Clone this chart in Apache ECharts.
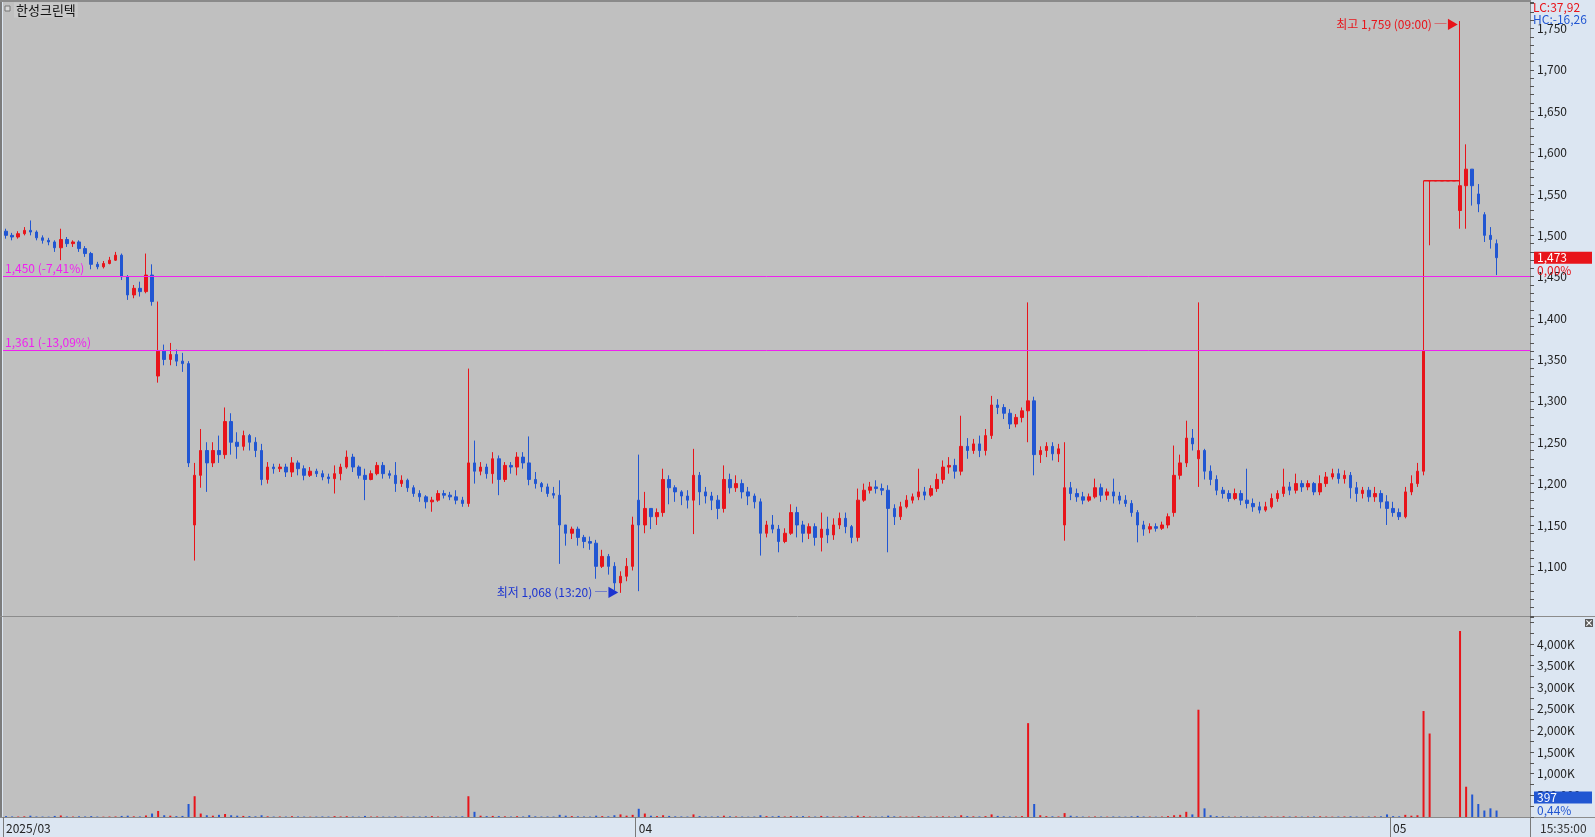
<!DOCTYPE html>
<html><head><meta charset="utf-8">
<script src="https://cdn.jsdelivr.net/npm/echarts@6/dist/echarts.min.js"></script>
<style>html,body{margin:0;padding:0;background:#dce6f2;overflow:hidden}#c{width:1595px;height:837px}</style>
</head><body><div id="c"></div>
<script>
const FONT = "'Noto Sans CJK KR','Noto Sans',sans-serif";
const stockName = '한성크린텍';
const lcText = 'LC:37,92';
const hcText = 'HC:-16,26';
const timeText = '15:35:00';
const totalSlots = 251;
const monthStartIdx = [0, 104, 228];
const monthLabels = ['2025/03', '04', '05'];
const priceLabelValues = [1100,1150,1200,1250,1300,1350,1400,1450,1500,1550,1600,1650,1700,1750];
const volLabelValues = [500,1000,1500,2000,2500,3000,3500,4000]; // thousands
// [open, close, low, high]
const candles = [
[1505,1500,1496,1508],[1500,1498,1494,1503],[1498,1502,1496,1505],[1502,1506,1500,1510],[1506,1504,1500,1518],
[1504,1497,1494,1506],[1497,1494,1490,1500],[1494,1492,1488,1497],[1492,1485,1480,1494],[1485,1495,1470,1508],
[1495,1490,1486,1498],[1490,1492,1486,1494],[1492,1484,1480,1494],[1484,1478,1474,1487],[1478,1465,1459,1480],
[1465,1462,1459,1468],[1462,1466,1460,1469],[1466,1470,1465,1474],[1470,1476,1469,1480],[1476,1450,1446,1478],
[1450,1428,1422,1452],[1428,1436,1424,1440],[1436,1432,1426,1444],[1432,1452,1430,1478],[1452,1420,1415,1465],
[1330,1360,1322,1420],[1360,1350,1343,1368],[1350,1356,1343,1370],[1356,1348,1342,1362],[1348,1345,1335,1358],
[1345,1225,1220,1348],[1150,1210,1107,1225],[1210,1240,1195,1266],[1240,1225,1190,1250],[1225,1240,1220,1250],
[1240,1235,1225,1258],[1235,1275,1230,1292],[1275,1250,1235,1285],[1250,1245,1230,1262],[1245,1258,1240,1264],
[1258,1250,1240,1260],[1250,1240,1232,1256],[1240,1205,1198,1248],[1205,1220,1200,1226],[1220,1218,1212,1224],
[1218,1220,1214,1224],[1220,1214,1208,1224],[1214,1225,1208,1232],[1225,1218,1210,1228],[1218,1210,1204,1222],
[1210,1215,1208,1220],[1215,1212,1208,1218],[1212,1208,1204,1216],[1208,1206,1200,1212],[1206,1212,1188,1222],
[1212,1220,1204,1224],[1220,1232,1218,1240],[1232,1220,1214,1236],[1220,1210,1206,1222],[1210,1205,1180,1218],
[1205,1212,1204,1216],[1212,1222,1210,1226],[1222,1212,1206,1226],[1212,1210,1206,1216],[1210,1200,1190,1226],
[1200,1204,1196,1210],[1204,1195,1190,1206],[1195,1188,1184,1198],[1188,1184,1178,1192],[1184,1178,1170,1186],
[1178,1180,1166,1184],[1180,1188,1178,1192],[1188,1186,1182,1192],[1186,1184,1180,1190],[1184,1180,1175,1192],
[1180,1176,1172,1184],[1176,1225,1172,1339],[1225,1215,1200,1252],[1215,1220,1210,1226],[1220,1212,1206,1224],
[1212,1230,1200,1238],[1230,1205,1186,1234],[1205,1222,1202,1226],[1222,1220,1212,1226],[1220,1232,1210,1238],
[1232,1225,1218,1238],[1225,1205,1198,1257],[1205,1200,1194,1214],[1200,1196,1190,1202],[1196,1188,1184,1200],
[1188,1186,1182,1196],[1186,1150,1103,1204],[1150,1140,1125,1150],[1140,1145,1133,1148],[1145,1135,1125,1148],
[1135,1130,1122,1138],[1130,1128,1120,1136],[1128,1100,1085,1132],[1100,1112,1098,1120],[1112,1100,1090,1115],
[1100,1080,1071,1105],[1080,1088,1068,1094],[1088,1100,1082,1110],[1100,1150,1095,1160],[1180,1150,1070,1235],
[1150,1170,1140,1190],[1170,1160,1145,1170],[1160,1165,1150,1170],[1165,1205,1160,1218],[1205,1195,1175,1210],
[1195,1190,1178,1198],[1190,1185,1174,1192],[1185,1180,1170,1192],[1180,1210,1139,1242],[1210,1190,1174,1214],
[1190,1185,1176,1196],[1185,1180,1168,1190],[1180,1170,1157,1186],[1170,1205,1165,1222],[1205,1195,1188,1212],
[1195,1200,1190,1210],[1200,1190,1182,1205],[1190,1185,1174,1196],[1185,1178,1170,1188],[1178,1140,1113,1182],
[1140,1150,1135,1155],[1150,1145,1140,1162],[1145,1130,1117,1150],[1130,1140,1128,1146],[1140,1165,1138,1175],
[1165,1150,1135,1172],[1150,1140,1129,1155],[1140,1148,1133,1152],[1148,1135,1125,1152],[1135,1145,1118,1165],
[1145,1138,1128,1160],[1138,1150,1132,1158],[1150,1158,1145,1165],[1158,1148,1140,1165],[1148,1135,1128,1150],
[1135,1180,1130,1194],[1180,1192,1178,1200],[1192,1196,1188,1202],[1196,1194,1188,1204],[1194,1192,1186,1200],
[1192,1170,1117,1198],[1170,1160,1150,1175],[1160,1172,1156,1178],[1172,1180,1170,1186],[1180,1184,1176,1188],
[1184,1190,1180,1218],[1190,1186,1180,1196],[1186,1194,1184,1198],[1194,1205,1190,1212],[1205,1220,1200,1228],
[1220,1222,1212,1232],[1222,1215,1206,1230],[1215,1245,1210,1282],[1245,1240,1230,1255],[1240,1248,1236,1254],
[1248,1240,1232,1258],[1240,1258,1234,1266],[1258,1295,1254,1306],[1295,1292,1284,1302],[1292,1285,1278,1296],
[1285,1272,1266,1290],[1272,1280,1268,1284],[1280,1288,1274,1292],[1288,1300,1250,1419],[1300,1235,1210,1305],
[1235,1240,1225,1245],[1240,1245,1232,1250],[1245,1236,1228,1250],[1236,1242,1226,1248],[1150,1195,1131,1250],
[1195,1188,1180,1202],[1188,1184,1178,1194],[1184,1180,1175,1190],[1180,1184,1178,1188],[1184,1195,1182,1206],
[1195,1186,1178,1200],[1186,1190,1180,1194],[1190,1185,1176,1206],[1185,1180,1175,1190],[1180,1176,1172,1186],
[1176,1165,1160,1180],[1165,1150,1129,1168],[1150,1145,1137,1155],[1145,1148,1140,1152],[1148,1146,1142,1152],
[1146,1150,1144,1154],[1150,1160,1146,1164],[1165,1210,1160,1246],[1210,1225,1205,1235],[1225,1255,1220,1276],
[1255,1248,1240,1266],[1230,1240,1196,1419],[1240,1215,1205,1242],[1215,1205,1198,1222],[1205,1192,1186,1210],
[1192,1188,1182,1196],[1188,1182,1178,1192],[1182,1188,1180,1194],[1188,1180,1174,1192],[1180,1176,1170,1218],
[1176,1172,1166,1182],[1172,1168,1164,1178],[1168,1172,1166,1178],[1172,1182,1170,1188],[1182,1188,1178,1192],
[1188,1196,1184,1218],[1196,1192,1186,1202],[1192,1200,1188,1212],[1200,1196,1190,1204],[1196,1200,1192,1204],
[1200,1190,1186,1202],[1190,1200,1186,1210],[1200,1208,1196,1214],[1208,1212,1205,1218],[1212,1206,1200,1218],
[1206,1210,1200,1216],[1210,1195,1182,1214],[1195,1188,1178,1202],[1188,1192,1182,1196],[1192,1184,1178,1196],
[1184,1188,1178,1196],[1188,1178,1170,1192],[1178,1170,1150,1186],[1170,1165,1160,1178],[1165,1160,1156,1170],
[1160,1190,1158,1196],[1190,1200,1186,1210],[1200,1215,1196,1225],[1215,1360,1210,1566],[1566,1566,1488,1566],
[1566,1566,1566,1566],[1566,1566,1566,1566],[1566,1566,1566,1566],[1566,1566,1566,1566],[1530,1560,1508,1759],
[1560,1580,1508,1610],[1580,1560,1536,1580],[1550,1538,1528,1562],[1525,1500,1492,1528],[1500,1495,1484,1510],
[1490,1473,1452,1495]
];
// volume in thousands of shares
const volumes = [
20,12,10,15,30,12,10,8,25,35, 12,10,15,12,20,10,8,10,12,25, 30,15,12,35,80,140,40,30,20,25,
300,480,80,40,30,50,70,40,30,25, 20,15,40,15,10,12,10,18,12,10, 8,10,12,10,20,12,18,10,8,25,
10,12,10,8,15,10,8,12,10,15, 20,10,8,10,12,15,480,120,30,20, 25,20,15,10,18,12,40,15,10,12,
10,50,30,20,15,12,10,30,20,15, 40,60,30,50,190,80,30,20,40,25, 15,12,10,60,20,12,10,15,30,15,
12,10,8,10,40,20,15,25,12,20, 15,20,12,10,25,15,12,10,15,12, 30,20,10,8,10,30,15,12,10,8,
20,10,8,12,15,10,12,40,20,15, 12,20,60,25,15,12,10,20,2170,300, 40,20,15,12,90,30,15,10,8,12,
10,8,12,10,8,15,25,12,10,8, 10,20,40,50,120,60,2480,200,40,20, 15,10,8,12,10,8,10,12,10,8,
15,10,12,8,10,12,15,10,8,10, 12,15,10,8,10,12,15,60,20,15, 50,30,40,2450,1930,null,null,null,null,4300,
700,520,300,150,200,150
];
const haltPrice = 1566, haltFrom = 233, haltTo = 239;
const refLines = [{ value: 1450, text: '1,450 (-7,41%)' }, { value: 1361, text: '1,361 (-13,09%)' }];
const highMark = { idx: 239, value: 1759, text: '최고 1,759 (09:00) ─▶' };
const lowMark = { idx: 101, value: 1068, text: '최저 1,068 (13:20) ─▶' };
const lastPrice = 1473, lastPriceText = '1,473', lastPct = '0,00%';
const lastVol = 0.397, lastVolText = '397', lastVolPct = '0,44%';

const RED = '#e8141a', BLUE = '#2156d2', MAG = '#f020f0';
const cats = Array.from({ length: totalSlots }, (_, i) => String(i));
const haltData = cats.map((_, i) => (i >= haltFrom && i <= haltTo ? haltPrice : null));
const volData = volumes.map((v, i) => ({
  value: v,
  itemStyle: { color: candles[i][1] >= candles[i][0] ? RED : BLUE }
}));
const CLEAR = 'rgba(0,0,0,0)';

const chart = echarts.init(document.getElementById('c'), null, { renderer: 'canvas' });
const axisTxt = { color: '#222', fontFamily: FONT, fontSize: 12 };
chart.setOption({
  animation: false,
  backgroundColor: '#dce6f2',
  textStyle: { fontFamily: FONT },
  grid: [
    { left: 3, right: 65, top: 2, height: 614, show: true, backgroundColor: '#c0c0c0', borderWidth: 0 },
    { left: 3, right: 65, top: 617, height: 200, show: true, backgroundColor: '#c0c0c0', borderWidth: 0 }
  ],
  xAxis: [
    { type: 'category', gridIndex: 0, data: cats, boundaryGap: true, show: false },
    {
      type: 'category', gridIndex: 1, data: cats, boundaryGap: true,
      axisLine: { show: true, lineStyle: { color: '#8a8a8a' } },
      axisTick: { show: true, length: 20, interval: (i) => monthStartIdx.includes(i), lineStyle: { color: '#7a7a7a' } },
      axisLabel: {
        interval: (i) => monthStartIdx.includes(i), align: 'left', margin: 5, ...axisTxt,
        formatter: (v, i) => { const k = monthStartIdx.indexOf(i); return k >= 0 ? monthLabels[k] : ''; }
      }
    }
  ],
  yAxis: [
    {
      type: 'value', gridIndex: 0, position: 'right', min: 1040, max: 1782, interval: 10, scale: true,
      axisLine: { show: true, lineStyle: { color: '#8a8a8a' } },
      axisTick: { show: true, length: 4, lineStyle: { color: '#555' } },
      splitLine: { show: false },
      axisLabel: { ...axisTxt, margin: 7, formatter: (v) => priceLabelValues.includes(v) ? v.toLocaleString('en-US') : '' }
    },
    {
      type: 'value', gridIndex: 1, position: 'right', min: 0, max: 4624, interval: 250,
      axisLine: { show: true, lineStyle: { color: '#8a8a8a' } },
      axisTick: { show: true, length: 4, lineStyle: { color: '#555' } },
      splitLine: { show: false },
      axisLabel: {
        ...axisTxt, margin: 7,
        formatter: (v) => volLabelValues.includes(v) ? (v >= 1000 ? v.toLocaleString('en-US') + 'K' : (v * 1000).toLocaleString('en-US')) : ''
      }
    }
  ],
  series: [
    {
      type: 'candlestick', xAxisIndex: 0, yAxisIndex: 0, data: candles, barWidth: 3, z: 3,
      itemStyle: { color: RED, color0: BLUE, borderColor: RED, borderColor0: BLUE, borderWidth: 1 },
      markLine: {
        silent: true, symbol: ['none', 'none'], animation: false,
        data: [
          ...refLines.map(r => ({
            yAxis: r.value, lineStyle: { color: MAG, width: 1, type: 'solid' },
            label: { show: true, position: 'insideStartTop', formatter: r.text, color: MAG, fontFamily: FONT, fontSize: 12, distance: 2 }
          })),
          {
            yAxis: lastPrice, lineStyle: { color: CLEAR, width: 0 },
            label: {
              show: true, position: 'end', distance: 4,
              formatter: '{e| }\n{a|' + lastPriceText + '}\n{b|' + lastPct + '}',
              rich: {
                e: { lineHeight: 13, fontSize: 12 },
                a: { lineHeight: 13, fontSize: 12, color: '#fff', backgroundColor: RED, width: 52, padding: [0, 3], fontFamily: FONT },
                b: { lineHeight: 13, fontSize: 12, color: RED, padding: [0, 3], fontFamily: FONT }
              }
            }
          }
        ]
      },
      markPoint: {
        silent: true, symbol: 'circle', symbolSize: 1, itemStyle: { color: CLEAR },
        data: [
          { coord: [highMark.idx, highMark.value], label: { show: true, position: 'left', distance: 1, offset: [0, 3], formatter: highMark.text, color: RED, fontFamily: FONT, fontSize: 12 } },
          { coord: [lowMark.idx, lowMark.value], label: { show: true, position: 'left', distance: 1, formatter: lowMark.text, color: '#1c34d0', fontFamily: FONT, fontSize: 12 } }
        ]
      }
    },
    {
      type: 'line', xAxisIndex: 0, yAxisIndex: 0, data: haltData, symbol: 'none', z: 2,
      lineStyle: { color: RED, width: 1.5 }, connectNulls: false, silent: true
    },
    {
      type: 'bar', xAxisIndex: 1, yAxisIndex: 1, data: volData, barWidth: 2,
      markLine: {
        silent: true, symbol: ['none', 'none'],
        data: [{
          yAxis: lastVol, lineStyle: { color: CLEAR, width: 0 },
          label: {
            show: true, position: 'end', distance: 4,
            formatter: '{a|' + lastVolText + '}\n{b|' + lastVolPct + '}\n{e| }\n{e| }',
            rich: {
              e: { lineHeight: 13, fontSize: 12 },
              a: { lineHeight: 13, fontSize: 12, color: '#fff', backgroundColor: BLUE, width: 52, padding: [0, 3], fontFamily: FONT },
              b: { lineHeight: 13, fontSize: 12, color: BLUE, padding: [0, 3], fontFamily: FONT }
            }
          }
        }]
      }
    }
  ],
  graphic: [
    { type: 'rect', shape: { x: 0, y: 0, width: 2, height: 817 }, style: { fill: '#7c7c7c' }, silent: true },
    { type: 'rect', shape: { x: 0, y: 0, width: 1530, height: 2 }, style: { fill: '#8a8a8a' }, silent: true },
    { type: 'line', shape: { x1: 0, y1: 616.5, x2: 1595, y2: 616.5 }, style: { stroke: '#8c8c8c', lineWidth: 1 }, silent: true },
    { type: 'line', shape: { x1: 0, y1: 817.5, x2: 1595, y2: 817.5 }, style: { stroke: '#8c8c8c', lineWidth: 1 }, silent: true },
    { type: 'line', shape: { x1: 1530.5, y1: 0, x2: 1530.5, y2: 837 }, style: { stroke: '#8c8c8c', lineWidth: 1 }, silent: true },
    { type: 'rect', shape: { x: 5, y: 6, width: 5, height: 5 }, style: { fill: '#d8d8d8', stroke: '#777', lineWidth: 1 }, silent: true },
    { type: 'text', x: 14, y: 10, style: { text: stockName, fill: '#111', font: '13px ' + FONT, verticalAlign: 'middle', backgroundColor: '#c9c9c9', padding: [1, 2] }, silent: true },
    { type: 'text', x: 1533, y: 7, style: { text: lcText, fill: RED, font: '12px ' + FONT, verticalAlign: 'middle' }, silent: true },
    { type: 'text', x: 1533, y: 19, style: { text: hcText, fill: BLUE, font: '12px ' + FONT, verticalAlign: 'middle' }, silent: true },
    { type: 'text', x: 1540, y: 828, style: { text: timeText, fill: '#333', font: '12px ' + FONT, verticalAlign: 'middle' }, silent: true },
    { type: 'rect', shape: { x: 1585, y: 619, width: 8, height: 8 }, style: { fill: '#5a5a5a' }, silent: true },
    { type: 'text', x: 1589, y: 623, style: { text: '×', fill: '#fff', font: 'bold 9px ' + FONT, align: 'center', verticalAlign: 'middle' }, silent: true }
  ]
});
</script></body></html>
